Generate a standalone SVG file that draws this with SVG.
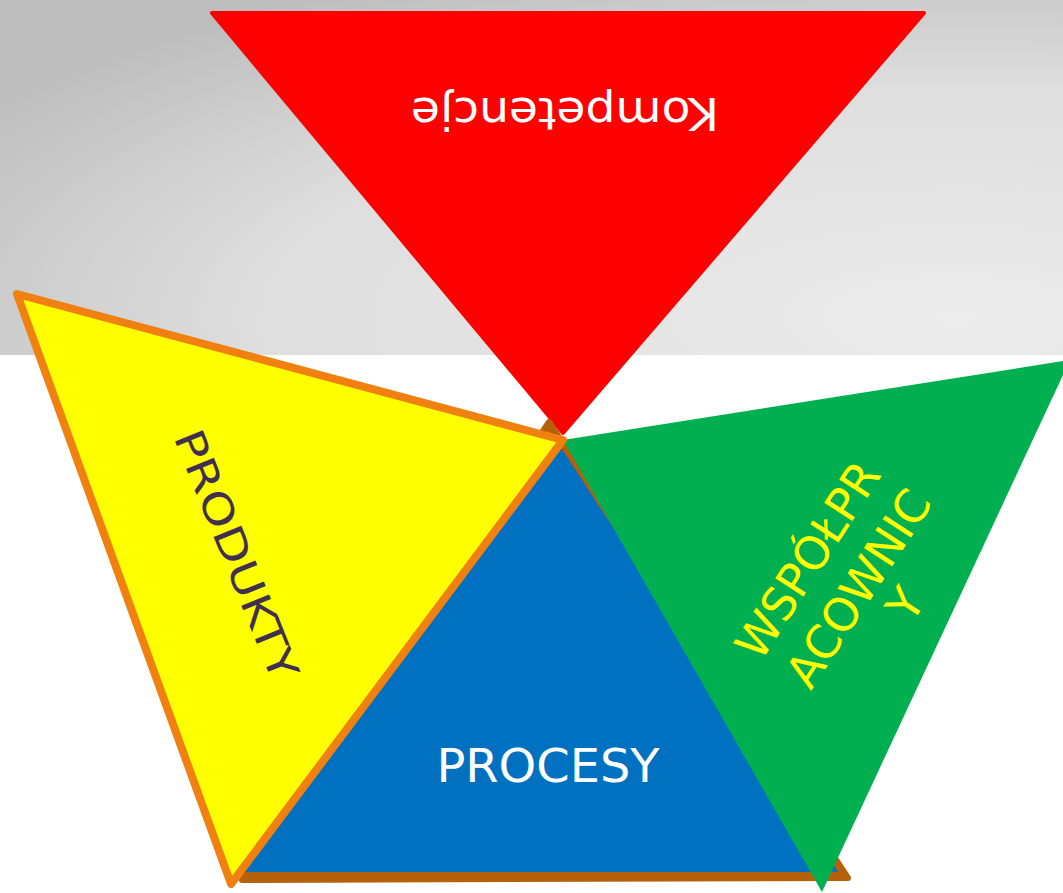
<svg xmlns="http://www.w3.org/2000/svg" width="1063" height="893" viewBox="0 0 1063 893">
<defs>
<radialGradient id="bg" cx="0.9" cy="0.9" r="1.1">
<stop offset="0" stop-color="#ececec"/>
<stop offset="0.6" stop-color="#dedede"/>
<stop offset="1" stop-color="#bdbdbd"/>
</radialGradient>
</defs>
<style>
.lbl{font-family:"DejaVu Sans","Liberation Sans",sans-serif;}
.tri{stroke-linejoin:round;}
</style>
<rect x="0" y="0" width="1063" height="893" fill="#ffffff"/>
<rect x="0" y="0" width="1063" height="355" fill="url(#bg)"/>
<g id="kompetencje">
<polygon class="tri" points="212,13 924,13 563,433" fill="#ff0000" stroke="#ff0000" stroke-width="4"/>
<text class="lbl" transform="translate(565,113) rotate(180)" text-anchor="middle" font-size="44" fill="#ffffff" dominant-baseline="central" textLength="308" lengthAdjust="spacingAndGlyphs">Kompetencje</text>
</g>
<g id="procesy">
<polygon class="tri" points="549,422 242,880 848,878" fill="#b5600a" stroke="#b5600a" stroke-width="6"/>
<polygon class="tri" points="556,440 234,872 838,872" fill="#0070c0"/>
<text class="lbl" x="548" y="782" text-anchor="middle" font-size="46" fill="#ffffff" textLength="223" lengthAdjust="spacingAndGlyphs">PROCESY</text>
</g>
<g id="wspolpracownicy">
<polygon points="563,440 1070,360 822,892" fill="#00b050"/>
<g transform="translate(872,597) rotate(-57)" class="lbl" font-size="46" fill="#ffff00" text-anchor="middle">
<text x="-4" y="-58">WSPÓŁPR</text>
<text x="0" y="0">ACOWNIC</text>
<text x="12" y="48">Y</text>
</g>
</g>
<g id="produkty">
<polygon class="tri" points="17,294 563,440 231,884" fill="#ffff00" stroke="#f08010" stroke-width="8"/>
<text class="lbl" transform="translate(236,555) rotate(68)" text-anchor="middle" dominant-baseline="central" font-size="41" fill="#403050" textLength="266" lengthAdjust="spacingAndGlyphs">PRODUKTY</text>
</g>
<g id="connectors"/>
</svg>
